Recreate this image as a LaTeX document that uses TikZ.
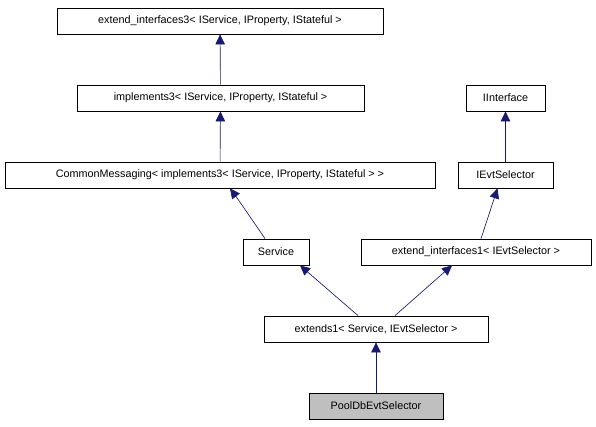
\documentclass[tikz,border=0pt]{standalone}
\usepackage{fontspec}
\setmainfont{Liberation Sans}
\usepackage{xcolor}
\usetikzlibrary{arrows.meta,calc}
\definecolor{edgeblue}{HTML}{191970}

\begin{document}
\begin{tikzpicture}[x=1pt,y=-1pt]
\tikzset{
	class node/.style = {draw, line width=0.8pt, minimum height=26, inner sep=0, font=\fontsize{10.8}{13}\selectfont},
	base node/.style = {class node, fill=gray!50},
	inherit/.style = {draw=edgeblue, line width=0.65pt, -{Triangle[length=10,width=9.5]}},
}
\useasboundingbox (0,0) rectangle (596,427);
\node(ext3)[class node, minimum width=326] at (220,21) {extend\_interfaces3< IService, IProperty, IStateful >};
\node(impl3)[class node, minimum width=287] at (220.5,98) {implements3< IService, IProperty, IStateful >};
\node(cm)[class node, minimum width=430] at (220,175) {CommonMessaging< implements3< IService, IProperty, IStateful > >};
\node(iif)[class node, minimum width=79] at (505.5,98) {IInterface};
\node(ies)[class node, minimum width=95] at (505.5,175) {IEvtSelector};
\node(svc)[class node, minimum width=66] at (276,252) {Service};
\node(eif1)[class node, minimum width=230] at (476,252) {extend\_interfaces1< IEvtSelector >};
\node(ext1)[class node, minimum width=224] at (376,329) {extends1< Service, IEvtSelector >};
\node(pool)[base node, minimum width=134] at (376,406) {PoolDbEvtSelector};
\draw[inherit] (impl3) -- (ext3);
\draw[inherit] (cm) -- (impl3);
\draw[inherit] (ies) -- (iif);
\draw[inherit] ($(svc.north)+(-11,0)$) .. controls +(-2,-3) and +(6,8) .. ($(cm.south)+(10,0)$);
\draw[inherit] ($(eif1.north)+(5,0)$) -- ($(ies.south)+(-8,0)$);
\draw[inherit] ($(ext1.north)+(-18,0)$) -- ($(svc.south)+(24,0)$);
\draw[inherit] ($(ext1.north)+(19,0)$) -- ($(eif1.south)+(-24,0)$);
\draw[inherit] (pool) -- (ext1);
\end{tikzpicture}
\end{document}
